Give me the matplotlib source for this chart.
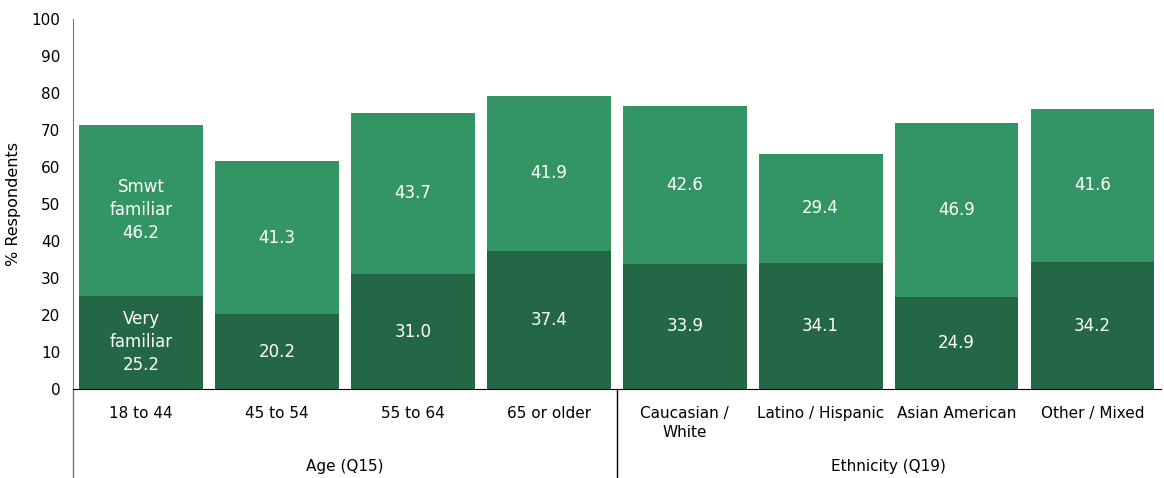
import numpy as np
import matplotlib.pyplot as plt
from matplotlib.lines import Line2D

# data
categories = ['18 to 44', '45 to 54', '55 to 64', '65 or older',
              'Caucasian /\nWhite', 'Latino / Hispanic', 'Asian American', 'Other / Mixed']
very_familiar = [25.2, 20.2, 31.0, 37.4, 33.9, 34.1, 24.9, 34.2]
smwt_familiar = [46.2, 41.3, 43.7, 41.9, 42.6, 29.4, 46.9, 41.6]
groups = ['Age (Q15)', 'Ethnicity (Q19)']
group_sizes = [4, 4]

dark = '#236745'
light = '#339564'

fig = plt.figure(figsize=(11.64, 4.78), dpi=100)
ax = fig.add_axes([73 / 1164, 1 - 389 / 478, 1 - 73 / 1164 - 0.003, (389 - 19) / 478])

x = np.arange(len(categories))
ax.bar(x, very_familiar, width=0.91, color=dark)
ax.bar(x, smwt_familiar, width=0.91, bottom=very_familiar, color=light)

for i in range(len(categories)):
    v = very_familiar[i]
    s = smwt_familiar[i]
    if i == 0:
        t1 = 'Very\nfamiliar\n%.1f' % v
        t2 = 'Smwt\nfamiliar\n%.1f' % s
    else:
        t1 = '%.1f' % v
        t2 = '%.1f' % s
    ax.text(i, v / 2, t1, ha='center', va='center', color='white', fontsize=12,
            linespacing=1.35)
    ax.text(i, v + s / 2, t2, ha='center', va='center', color='white', fontsize=12,
            linespacing=1.35)

ax.set_xlim(-0.5, len(categories) - 0.5)
ax.set_ylim(0, 100)
ax.set_yticks(np.arange(0, 101, 10))
ax.tick_params(axis='y', length=0, labelsize=11, pad=9)
ax.tick_params(axis='x', length=0)
ax.set_xticks([])
ax.set_ylabel('% Respondents', fontsize=11.5, labelpad=8)

for side in ['top', 'right']:
    ax.spines[side].set_visible(False)
ax.spines['left'].set_color('#777777')
ax.spines['bottom'].set_color('black')

# category labels below the axis
for i, c in enumerate(categories):
    ax.annotate(c, xy=(i, 0), xycoords=('data', 'axes fraction'),
                xytext=(0, -12), textcoords='offset points',
                ha='center', va='top', fontsize=11, linespacing=1.4)

# extended left spine and group separators
trans = ax.get_xaxis_transform()
ax.add_line(Line2D([-0.5, -0.5], [0, -0.25], transform=trans, color='#777777',
                   lw=1, clip_on=False))
start = 0
for g, n in zip(groups, group_sizes):
    mid = start + (n - 1) / 2
    ax.annotate(g, xy=(mid, 0), xycoords=('data', 'axes fraction'),
                xytext=(0, -56), textcoords='offset points',
                ha='center', va='center', fontsize=11)
    start += n
    if start < len(categories):
        ax.add_line(Line2D([start - 0.5, start - 0.5], [0, -0.25], transform=trans,
                           color='black', lw=1, clip_on=False))

fig.savefig('out.png', dpi=100)
